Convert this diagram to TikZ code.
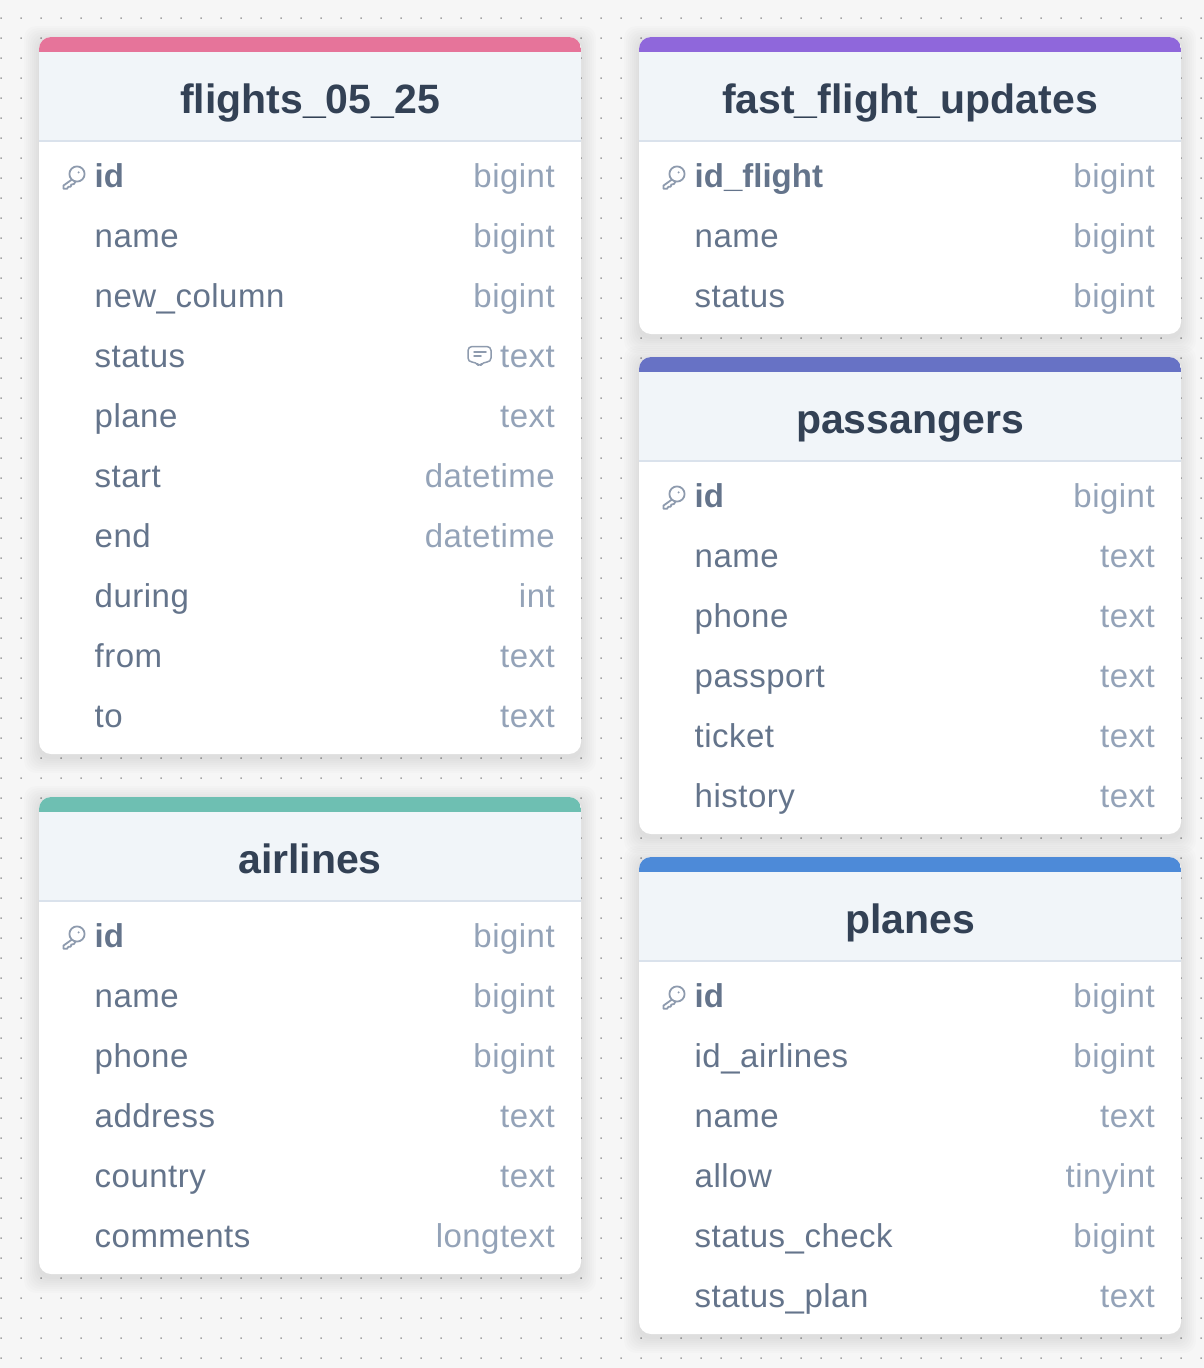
\documentclass[tikz,border=0pt]{standalone}
\usepackage{fontspec}
\setmainfont{Liberation Sans}
\newfontfamily\rowfont[LetterSpace=1.5]{Liberation Sans}
\newfontfamily\titlefont{Liberation Sans Bold}
\definecolor{bgc}{HTML}{F6F6F6}
\definecolor{dotc}{HTML}{A4A4A4}
\definecolor{headc}{HTML}{F1F5F9}
\definecolor{linec}{HTML}{DAE2EC}
\definecolor{titlec}{HTML}{334155}
\definecolor{namec}{HTML}{64748B}
\definecolor{typec}{HTML}{94A3B8}
\definecolor{iconc}{HTML}{8E9BAE}
\definecolor{pinkc}{HTML}{E6749A}
\definecolor{purplec}{HTML}{8F67DB}
\definecolor{indigoc}{HTML}{6772C5}
\definecolor{tealc}{HTML}{6EBFB2}
\definecolor{bluec}{HTML}{4D8AD8}
\tikzset{
  x=1pt,y=-1pt,
  titletext/.style={inner sep=0pt,anchor=base,text=titlec,font=\titlefont\fontsize{41}{48}\selectfont},
  nametext/.style={inner sep=0pt,anchor=base west,text=namec,font=\rowfont\fontsize{33}{38}\selectfont},
  keytext/.style={inner sep=0pt,anchor=base west,text=namec,font=\titlefont\fontsize{33}{38}\selectfont},
  typetext/.style={inner sep=0pt,anchor=base east,text=typec,font=\rowfont\fontsize{33}{38}\selectfont},
  iconline/.style={draw=iconc,line width=1.8pt,line cap=round,line join=round},
}
% #1 name, #2 left, #3 top, #4 rows, #5 colour, #6 title
\newcommand{\tablecard}[6]{%
  \pgfmathsetmacro{\cardbottom}{#3+117+60*#4}
  \foreach \d in {1,3,...,15}{
    \fill[black,opacity=.011,rounded corners=12pt]
      (#2-\d,#3-\d+4) rectangle (#2+542+\d,\cardbottom+\d+4);
  }
  \fill[white,rounded corners=12pt] (#2,#3) rectangle (#2+542,\cardbottom);
  \begin{scope}
    \clip[rounded corners=12pt] (#2,#3) rectangle (#2+542,\cardbottom);
    \fill[headc] (#2,#3+15) rectangle (#2+542,#3+103);
    \fill[#5] (#2,#3) rectangle (#2+542,#3+15);
    \fill[linec] (#2,#3+103) rectangle (#2+542,#3+104.5);
  \end{scope}
  \node[titletext] (#1-title) at (#2+271,#3+76) {#6};
}
% #1 name, #2 left, #3 row centre, #4 column, #5 type
\newcommand{\keyrow}[5]{%
  \begin{scope}[shift={(#2-39,#3-176)}]
    \draw[iconline] (77,174) circle (7.6);
    \fill[iconc] (78.6,172.4) circle (1.1);
    \draw[iconline] (71.8,179.6) -- (63.4,185.6) -- (63.6,188.8) -- (67,188.8) -- (68.4,186.8) -- (70.8,186.6) -- (71.2,184.6) -- (74,184) -- (75.6,181.4);
  \end{scope}
  \node[keytext] (#1-id) at (#2+55.5,#3+11) {#4};
  \node[typetext] (#1-idtype) at (#2+516,#3+11) {#5};
}
% #1 name, #2 left, #3 first row centre, #4 list of column/type
\newcommand{\rowsof}[4]{%
  \foreach \n/\t [count=\i] in {#4}{
    \node[nametext] (#1-n\i) at (#2+55.5,#3+11+60*\i-60) {\n};
    \node[typetext] (#1-t\i) at (#2+516,#3+11+60*\i-60) {\t};
  }
}
\begin{document}
\begin{tikzpicture}
\useasboundingbox (0,0) rectangle (1204,1368);
\fill[bgc] (0,0) rectangle (1204,1368);
\foreach \yy in {18,38,...,1358}{
  \fill[dotc] \foreach \xx in {1,21,...,1201}{ (\xx-.75,\yy-.75) rectangle (\xx+.75,\yy+.75) };
}
% flights
\tablecard{flights}{39}{37}{10}{pinkc}{flights\_05\_25}
\keyrow{flights}{39}{176}{id}{bigint}
\rowsof{flights}{39}{236}{name/bigint,new\_column/bigint,status/text,plane/text,start/datetime,end/datetime,during/int,from/text,to/text}
% comment icon
\draw[iconline,line width=1.5pt,rounded corners=4pt]
  (479,346.5) -- (491,346.5) -- (491,362) -- (483,362) -- (479.5,367) -- (476,362) -- (468,362) -- (468,346.5) -- cycle;
\draw[iconline,line width=1.5pt] (474,352) -- (486,352) (474,356) -- (481,356);
% airlines
\tablecard{airlines}{39}{797}{6}{tealc}{airlines}
\keyrow{airlines}{39}{936}{id}{bigint}
\rowsof{airlines}{39}{996}{name/bigint,phone/bigint,address/text,country/text,comments/longtext}
% fast flight updates
\tablecard{fast}{639}{37}{3}{purplec}{fast\_flight\_updates}
\keyrow{fast}{639}{176}{id\_flight}{bigint}
\rowsof{fast}{639}{236}{name/bigint,status/bigint}
% passangers
\tablecard{pass}{639}{357}{6}{indigoc}{passangers}
\keyrow{pass}{639}{496}{id}{bigint}
\rowsof{pass}{639}{556}{name/text,phone/text,passport/text,ticket/text,history/text}
% planes
\tablecard{planes}{639}{857}{6}{bluec}{planes}
\keyrow{planes}{639}{996}{id}{bigint}
\rowsof{planes}{639}{1056}{id\_airlines/bigint,name/text,allow/tinyint,status\_check/bigint,status\_plan/text}
\end{tikzpicture}
\end{document}
